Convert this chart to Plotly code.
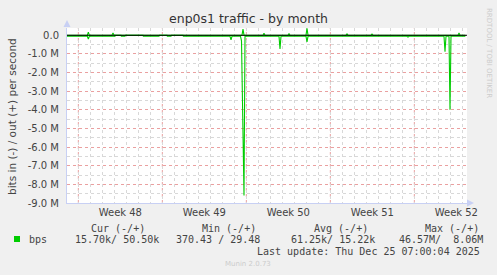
import plotly.graph_objects as go

# ---------------- data ----------------
in_times = [
    "2025-11-22 01:20", "2025-11-23 18:00", "2025-11-23 20:00", "2025-11-23 22:00",
    "2025-11-26 01:20", "2025-11-26 02:00", "2025-11-26 13:20", "2025-11-26 14:00",
    "2025-11-26 21:20", "2025-11-26 22:00", "2025-11-28 09:20", "2025-11-28 10:00",
    "2025-11-29 17:20", "2025-11-29 18:00", "2025-11-30 09:20", "2025-11-30 10:00",
    "2025-11-30 17:20", "2025-11-30 18:00", "2025-12-01 17:20", "2025-12-01 18:00",
    "2025-12-05 15:20", "2025-12-05 17:20", "2025-12-05 19:20", "2025-12-06 12:20",
    "2025-12-06 14:20", "2025-12-06 19:20", "2025-12-06 21:20", "2025-12-09 17:20",
    "2025-12-09 19:20", "2025-12-09 21:20", "2025-12-11 23:20", "2025-12-12 01:20",
    "2025-12-12 03:20", "2025-12-20 09:20", "2025-12-20 11:20", "2025-12-20 13:20",
    "2025-12-23 11:20", "2025-12-23 13:20", "2025-12-23 15:20", "2025-12-23 21:20",
    "2025-12-23 23:20", "2025-12-24 01:20", "2025-12-25 06:00",
]
in_values = [
    -55000, -55000, -200000, -55000,
    -55000, -5000, -5000, -55000,
    -55000, -5000, -5000, -55000,
    -55000, -5000, -5000, -55000,
    -55000, -5000, -5000, -55000,
    -55000, -250000, -55000, -55000,
    -300000, -8600000, -50000, -55000,
    -730000, -55000, -55000, -350000,
    -55000, -55000, -100000, -55000,
    -55000, -880000, -55000, -55000,
    -4000000, -55000, -55000,
]

out_times = [
    "2025-11-22 01:20", "2025-11-23 18:00", "2025-11-23 20:00", "2025-11-23 22:00",
    "2025-11-25 19:20", "2025-11-25 21:20", "2025-11-25 23:20", "2025-12-06 15:20",
    "2025-12-06 17:20", "2025-12-06 19:20", "2025-12-08 09:20", "2025-12-08 11:20",
    "2025-12-08 13:20", "2025-12-10 11:20", "2025-12-10 13:20", "2025-12-10 15:20",
    "2025-12-11 23:20", "2025-12-12 01:20", "2025-12-12 03:20", "2025-12-15 07:20",
    "2025-12-15 09:20", "2025-12-15 11:20", "2025-12-17 09:20", "2025-12-17 11:20",
    "2025-12-17 13:20", "2025-12-24 15:20", "2025-12-24 17:20", "2025-12-24 19:20",
    "2025-12-25 06:00",
]
out_values = [
    5000, 5000, 170000, 5000,
    5000, 130000, 5000, 5000,
    330000, 5000, 5000, 110000,
    5000, 5000, 100000, 5000,
    5000, 370000, 5000, 5000,
    70000, 5000, 5000, 60000,
    5000, 5000, 120000, 5000,
    5000,
]

y_tick_values = [0, -1e6, -2e6, -3e6, -4e6, -5e6, -6e6, -7e6, -8e6, -9e6]
y_tick_labels = ["0.0", "-1.0 M", "-2.0 M", "-3.0 M", "-4.0 M", "-5.0 M",
                 "-6.0 M", "-7.0 M", "-8.0 M", "-9.0 M"]

week_starts = ["2025-11-23", "2025-11-30", "2025-12-07", "2025-12-14", "2025-12-21"]
week_centers = ["2025-11-26 12:00", "2025-12-03 12:00", "2025-12-10 12:00",
                "2025-12-17 12:00", "2025-12-24 12:00"]
week_labels = ["Week 48", "Week 49", "Week 50", "Week 51", "Week 52"]

legend_headers = ["Cur (-/+)", "Min (-/+)", "Avg (-/+)", "Max (-/+)"]
legend_values = ["15.70k/ 50.50k", "370.43 / 29.48", "61.25k/ 15.22k", "46.57M/  8.06M"]
series_name = "bps"
last_update = "Last update: Thu Dec 25 07:00:04 2025"
title_text = "enp0s1 traffic - by month"
y_title = "bits in (-) / out (+) per second"
side_text = "RRDTOOL / TOBI OETIKER"
footer_text = "Munin 2.0.73"

x_range = ["2025-11-22 01:20", "2025-12-25 09:20"]
y_range = [-9e6, 0.39e6]

# ---------------- layout helpers ----------------
W, H = 497, 275
L, R, T, B = 67, 467, 28, 203
PW, PH = R - L, B - T


def px(x):
    return (x - L) / PW


def py(y):
    return (B - y) / PH


GREEN = "#00cc00"
TXT = "#444444"
SANS = "DejaVu Sans"
MONO = "DejaVu Sans Mono"

fig = go.Figure()
fig.add_trace(go.Scatter(x=in_times, y=in_values, mode="lines",
                         line=dict(color=GREEN, width=1.1), showlegend=False,
                         hoverinfo="skip"))
fig.add_trace(go.Scatter(x=out_times, y=out_values, mode="lines",
                         line=dict(color=GREEN, width=1.1), showlegend=False,
                         hoverinfo="skip"))

shapes = []
for ws in week_starts:
    shapes.append(dict(type="line", xref="x", yref="paper", x0=ws, x1=ws, y0=0, y1=1,
                       line=dict(color="#eaa0a0", width=1, dash="dot"), layer="between"))
# black zero line on top
shapes.append(dict(type="line", xref="paper", yref="y", x0=0, x1=1, y0=0, y1=0,
                   line=dict(color="#000000", width=1), layer="above"))
# axis arrows
shapes.append(dict(type="path", xref="paper", yref="paper",
                   path=f"M {px(63.5)} {py(27)} L {px(70.5)} {py(27)} L {px(67)} {py(20)} Z",
                   fillcolor="#c8d0f4", line=dict(width=0)))
shapes.append(dict(type="path", xref="paper", yref="paper",
                   path=f"M {px(467)} {py(199.5)} L {px(467)} {py(206.5)} L {px(474)} {py(203)} Z",
                   fillcolor="#c8d0f4", line=dict(width=0)))
# legend swatch
shapes.append(dict(type="rect", xref="paper", yref="paper",
                   x0=px(14), x1=px(20), y0=py(242), y1=py(236),
                   fillcolor=GREEN, line=dict(width=0)))

ann = []
header_left = [89, 200, 312, 423]
value_left = [73, 174, 289, 397]
for h, xl in zip(legend_headers, header_left):
    ann.append(dict(text=h.replace(" ", "\u00a0"), x=px(xl), y=py(228), xref="paper", yref="paper",
                    xanchor="left", yanchor="middle", showarrow=False,
                    font=dict(family=MONO, size=10, color=TXT)))
for v, xl in zip(legend_values, value_left):
    ann.append(dict(text=v.replace(" ", "\u00a0"), x=px(xl), y=py(239.5), xref="paper", yref="paper",
                    xanchor="left", yanchor="middle", showarrow=False,
                    font=dict(family=MONO, size=10, color=TXT)))
ann.append(dict(text=series_name, x=px(27), y=py(239.5), xref="paper", yref="paper",
                xanchor="left", yanchor="middle", showarrow=False,
                font=dict(family=MONO, size=10, color=TXT)))
ann.append(dict(text=last_update.replace(" ", "\u00a0"), x=px(482), y=py(251), xref="paper", yref="paper",
                xanchor="right", yanchor="middle", showarrow=False,
                font=dict(family=MONO, size=10, color=TXT)))
ann.append(dict(text=footer_text, x=px(248), y=py(264), xref="paper", yref="paper",
                xanchor="center", yanchor="middle", showarrow=False,
                font=dict(family=SANS, size=7, color="#cccccc")))
ann.append(dict(text=y_title, x=px(12), y=py(117), xref="paper", yref="paper",
                xanchor="center", yanchor="middle", showarrow=False, textangle=-90,
                font=dict(family=SANS, size=10.5, color=TXT)))
ann.append(dict(text=side_text, x=px(489), y=py(53), xref="paper", yref="paper",
                xanchor="center", yanchor="middle", showarrow=False, textangle=90,
                font=dict(family=SANS, size=7, color="#cccccc")))

fig.update_layout(
    width=W, height=H,
    margin=dict(l=L, r=W - R, t=T, b=H - B, pad=0),
    paper_bgcolor="#f0f0f0", plot_bgcolor="#ffffff",
    showlegend=False,
    title=dict(text=title_text, x=0.5, xref="container", xanchor="center",
               y=1 - 19 / H, yanchor="middle",
               font=dict(family=SANS, size=12.5, color="#333333")),
    shapes=shapes, annotations=ann,
    xaxis=dict(type="date", range=x_range, tickmode="array", tickvals=week_centers,
               ticktext=week_labels, showgrid=False, ticks="", zeroline=False,
               showline=True, linecolor="#c8d0f4", linewidth=1,
               tickfont=dict(family=SANS, size=10, color=TXT),
               minor=dict(dtick=86400000, tick0="2025-11-23", showgrid=True,
                          gridcolor="#d8d8d8", griddash="dot", gridwidth=1),
               fixedrange=True),
    yaxis=dict(range=y_range, tickmode="array", tickvals=y_tick_values, ticktext=y_tick_labels,
               showgrid=True, gridcolor="#eaa0a0", griddash="dot", gridwidth=1,
               ticks="", zeroline=False, showline=True, linecolor="#c8d0f4", linewidth=1,
               ticklabelstandoff=5,
               tickfont=dict(family=SANS, size=10, color=TXT),
               minor=dict(dtick=500000, tick0=0, showgrid=True,
                          gridcolor="#d8d8d8", griddash="dot", gridwidth=1),
               fixedrange=True),
)

fig.write_html("out.html", config=dict(displayModeBar=False))
